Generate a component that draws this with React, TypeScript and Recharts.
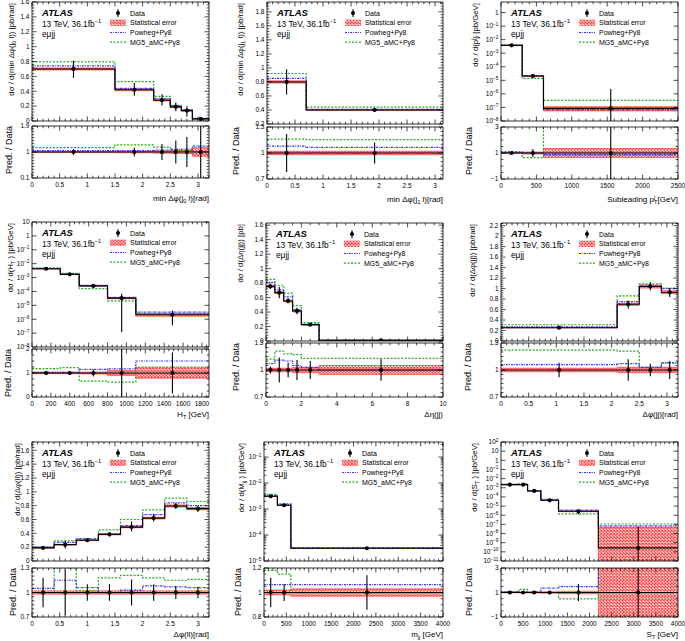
import React from 'react';
import { Area, ComposedChart, ErrorBar, Line, Scatter, XAxis, YAxis } from 'recharts';

const FONT = '"Liberation Sans", Arial, Helvetica, sans-serif';
const BLUE = '#3434ff';
const GREEN = '#25a825';
const RED = '#ff2a2a';

const legendLabels = ['Data', 'Statistical error', 'Powheg+Py8', 'MG5_aMC+Py8'];
const atlasLines = ['13 TeV, 36.1fb^{−1}', 'eμjj'];

// 1: min dphi(j0 l)
const p1Edges = [0, 1.5, 2.2, 2.5, 2.7, 2.9, 3.2];
const p1Data = [0.7, 0.42, 0.28, 0.19, 0.14, 0.028];
const p1Lo = [0.58, 0.34, 0.21, 0.13, 0.06, 0];
const p1Hi = [0.81, 0.51, 0.36, 0.25, 0.2, 0.055];
const p1Stat = [0.02, 0.03, 0.04, 0.05, 0.06, 0.15];
const p1Pow = [0.74, 0.44, 0.3, 0.205, 0.15, 0.034];
const p1Mg = [0.795, 0.53, 0.33, 0.21, 0.15, 0.033];
const p1PowR = [1.05, 1.05, 1.07, 1.09, 1.1, 1.2];
const p1MgR = [1.15, 1.25, 1.17, 1.07, 1.04, 1.0];
const p1ErrR = [0.1, 0.15, 0.28, 0.4, 0.52, 0.9];
const p1XTicks = [0, 0.5, 1, 1.5, 2, 2.5, 3];
const p1YTicks = [0, 0.2, 0.4, 0.6, 0.8, 1, 1.2, 1.4, 1.6];
const p1RTicks = [0.1, 1, 1.9];

// 2: min dphi(j1 l)
const p2Edges = [0, 0.7, 3.1416];
const p2Data = [0.8, 0.4];
const p2Lo = [0.62, 0.37];
const p2Hi = [0.98, 0.43];
const p2Stat = [0.02, 0.02];
const p2Pow = [0.85, 0.41];
const p2Mg = [0.92, 0.44];
const p2PowR = [1.08, 1.065];
const p2MgR = [1.16, 1.155];
const p2ErrR = [0.22, 0.12];
const p2XTicks = [0, 0.5, 1, 1.5, 2, 2.5, 3];
const p2YTicks = [0.2, 0.4, 0.6, 0.8, 1, 1.2, 1.4, 1.6, 1.8];
const p2RTicks = [0.7, 1, 1.3];

// 3: subleading jet pT
const p3Edges = [0, 300, 600, 2500];
const p3Data = [3.8e-3, 2.1e-5, 8.5e-8];
const p3Lo = [3.3e-3, 1.7e-5, 1e-12];
const p3Hi = [4.3e-3, 2.6e-5, 2.3e-6];
const p3Stat = [0.04, 0.08, 0.35];
const p3Pow = [3.8e-3, 2.2e-5, 7e-8];
const p3Mg = [4e-3, 1.4e-5, 3.3e-7];
const p3PowR = [1.05, 1.0, 0.88];
const p3MgR = [1.1, 0.65, 3.8];
const p3ErrR = [0.06, 0.3, 3];
const p3XTicks = [0, 500, 1000, 1500, 2000, 2500];
const p3YTicks = [1e-8, 1e-7, 1e-6, 1e-5, 1e-4, 1e-3, 1e-2, 1e-1, 1];
const p3RTicks = [-1, 1, 3];

// 4: HT
const p4Edges = [0, 300, 500, 800, 1100, 1875];
const p4Data = [4.3e-3, 1.7e-3, 2.5e-4, 3.3e-5, 2.1e-6];
const p4Lo = [3.9e-3, 1.55e-3, 2.1e-4, 1.2e-7, 3.7e-7];
const p4Hi = [4.8e-3, 1.85e-3, 2.9e-4, 6.8e-5, 4e-6];
const p4Stat = [0.03, 0.03, 0.04, 0.1, 0.22];
const p4Pow = [4.4e-3, 1.75e-3, 2.8e-4, 3.8e-5, 3.2e-6];
const p4Mg = [5e-3, 2e-3, 1.6e-4, 2.1e-5, 2.6e-6];
const p4PowR = [1.03, 1.03, 1.15, 1.17, 1.5];
const p4MgR = [1.18, 1.22, 0.66, 0.62, 1.25];
const p4ErrR = [0.06, 0.05, 0.15, 1, 0.85];
const p4XTicks = [0, 200, 400, 600, 800, 1000, 1200, 1400, 1600, 1800];
const p4YTicks = [1e-8, 1e-7, 1e-6, 1e-5, 1e-4, 1e-3, 1e-2, 1e-1, 1, 10];
const p4RTicks = [0, 1, 2];

// 5: deta(jj)
const p5Edges = [0, 0.5, 1, 1.5, 2, 3, 10];
const p5Data = [0.755, 0.668, 0.553, 0.415, 0.226, 0.01];
const p5Lo = [0.72, 0.59, 0.52, 0.37, 0.21, 0.006];
const p5Hi = [0.79, 0.75, 0.59, 0.46, 0.24, 0.014];
const p5Stat = [0.02, 0.02, 0.02, 0.03, 0.03, 0.05];
const p5Pow = [0.81, 0.71, 0.61, 0.43, 0.23, 0.01];
const p5Mg = [0.85, 0.77, 0.66, 0.49, 0.255, 0.011];
const p5PowR = [1.07, 1.11, 1.1, 1.05, 1.03, 1.0];
const p5MgR = [1.12, 1.21, 1.18, 1.17, 1.13, 1.13];
const p5ErrR = [0.04, 0.14, 0.08, 0.11, 0.1, 0.12];
const p5XTicks = [0, 2, 4, 6, 8, 10];
const p5YTicks = [0, 0.2, 0.4, 0.6, 0.8, 1, 1.2, 1.4, 1.6];
const p5RTicks = [0.7, 1, 1.3];

// 6: dphi(jj)
const p6Edges = [0, 2.1, 2.5, 2.9, 3.2];
const p6Data = [0.254, 0.7, 1.04, 0.93];
const p6Lo = [0.235, 0.62, 0.97, 0.84];
const p6Hi = [0.275, 0.77, 1.12, 1.01];
const p6Stat = [0.02, 0.03, 0.03, 0.03];
const p6Pow = [0.27, 0.75, 1.05, 1.0];
const p6Mg = [0.31, 0.86, 1.09, 1.01];
const p6PowR = [1.06, 1.07, 1.03, 1.08];
const p6MgR = [1.22, 1.21, 1.03, 1.08];
const p6ErrR = [0.08, 0.12, 0.07, 0.1];
const p6XTicks = [0, 0.5, 1, 1.5, 2, 2.5, 3];
const p6YTicks = [0, 0.2, 0.4, 0.6, 0.8, 1, 1.2, 1.4, 1.6, 1.8, 2, 2.2];
const p6RTicks = [0.7, 1, 1.3];

// 7: dphi(ll)
const p7Edges = [0, 0.4, 0.8, 1.2, 1.6, 2, 2.4, 2.8, 3.2];
const p7Data = [0.19, 0.236, 0.3, 0.385, 0.49, 0.62, 0.795, 0.757];
const p7Lo = [0.17, 0.18, 0.28, 0.355, 0.43, 0.57, 0.75, 0.71];
const p7Hi = [0.21, 0.29, 0.32, 0.415, 0.57, 0.68, 0.84, 0.8];
const p7Stat = [0.02, 0.02, 0.02, 0.02, 0.02, 0.02, 0.02, 0.02];
const p7Pow = [0.2, 0.27, 0.32, 0.39, 0.51, 0.67, 0.84, 0.8];
const p7Mg = [0.2, 0.29, 0.32, 0.45, 0.6, 0.74, 0.91, 0.86];
const p7PowR = [1.05, 1.15, 1.06, 1.0, 1.03, 1.08, 1.07, 1.06];
const p7MgR = [1.0, 1.3, 1.02, 1.18, 1.21, 1.18, 1.15, 1.16];
const p7ErrR = [0.18, 0.28, 0.1, 0.1, 0.16, 0.1, 0.08, 0.07];
const p7XTicks = [0, 0.5, 1, 1.5, 2, 2.5, 3];
const p7YTicks = [0, 0.2, 0.4, 0.6, 0.8, 1, 1.2, 1.4, 1.6];
const p7RTicks = [0.7, 1, 1.3];

// 8: mjj
const p8Edges = [0, 300, 600, 4000];
const p8Data = [3.1e-3, 1.4e-3, 3.1e-5];
const p8Lo = [2.75e-3, 1.3e-3, 2.7e-5];
const p8Hi = [3.5e-3, 1.5e-3, 3.5e-5];
const p8Stat = [0.02, 0.02, 0.03];
const p8Pow = [3.3e-3, 1.5e-3, 3.3e-5];
const p8Mg = [3.65e-3, 1.6e-3, 3.1e-5];
const p8PowR = [1.065, 1.065, 1.065];
const p8MgR = [1.18, 1.15, 1.0];
const p8ErrR = [0.12, 0.07, 0.14];
const p8XTicks = [0, 500, 1000, 1500, 2000, 2500, 3000, 3500, 4000];
const p8YTicks = [1e-5, 1e-4, 1e-3, 1e-2, 1e-1];
const p8RTicks = [0.8, 1, 1.2];

// 9: ST
const p9Edges = [0, 400, 600, 900, 1300, 2200, 4000];
const p9Data = [2.2e-3, 2.2e-3, 4.5e-4, 4.3e-5, 2.7e-6, 2.7e-10];
const p9Lo = [2e-3, 2e-3, 4e-4, 3.5e-5, 1.3e-6, 1e-14];
const p9Hi = [2.4e-3, 2.4e-3, 5e-4, 5e-5, 4e-6, 6e-8];
const p9Stat = [0.03, 0.03, 0.04, 0.06, 0.1, 185];
const p9Pow = [2.3e-3, 2.3e-3, 4.7e-4, 5.5e-5, 3.6e-6, 7e-8];
const p9Mg = [2.3e-3, 2.6e-3, 4.5e-4, 4.3e-5, 1.4e-6, 1.1e-7];
const p9PowR = [1.05, 1.05, 1.05, 1.35, 1.48, 5];
const p9MgR = [1.05, 1.25, 1.0, 1.0, 0.48, 5];
const p9ErrR = [0.05, 0.05, 0.05, 0.15, 0.7, 5];
const p9XTicks = [0, 500, 1000, 1500, 2000, 2500, 3000, 3500, 4000];
const p9YTicks = [1e-11, 1e-10, 1e-9, 1e-8, 1e-7, 1e-6, 1e-5, 1e-4, 1e-3, 1e-2, 1e-1, 1, 10, 100];
const p9RTicks = [-1, 1, 3];

type Frame = { x: number; y: number; w: number; h: number; ry: number; rh: number; ytx: number; rtx: number; xty: number };

interface Spec {
  f: Frame;
  edges: number[]; data: number[]; lo: number[]; hi: number[]; stat: number[];
  pow: number[]; mg: number[]; powR: number[]; mgR: number[]; errR: number[];
  x: [number, number]; xt: number[]; xm: number;
  y: [number, number]; yt: number[]; ym: number; log?: boolean; logMinor?: boolean;
  r: [number, number]; rt: number[]; rm: number;
  yTitle: string; xTitle: string;
}

const specs: Spec[] = [
  {
    f: { x: 32, y: 2, w: 177, h: 119, ry: 126, rh: 52, ytx: 14, rtx: 11.5, xty: 23 },
    edges: p1Edges, data: p1Data, lo: p1Lo, hi: p1Hi, stat: p1Stat, pow: p1Pow, mg: p1Mg, powR: p1PowR, mgR: p1MgR, errR: p1ErrR,
    x: [0, 3.2], xt: p1XTicks, xm: 0.1, y: [0, 1.6], yt: p1YTicks, ym: 0.04, r: [0.1, 1.9], rt: p1RTicks, rm: 0.1,
    yTitle: 'dσ / d(min Δφ(j_{0} l)) [pb/rad]', xTitle: 'min Δφ(j_{0} l)[rad]',
  },
  {
    f: { x: 267, y: 2, w: 176, h: 122, ry: 127, rh: 52, ytx: 242.5, rtx: 238.5, xty: 23 },
    edges: p2Edges, data: p2Data, lo: p2Lo, hi: p2Hi, stat: p2Stat, pow: p2Pow, mg: p2Mg, powR: p2PowR, mgR: p2MgR, errR: p2ErrR,
    x: [0, 3.1416], xt: p2XTicks, xm: 0.1, y: [0.2, 1.94], yt: p2YTicks, ym: 0.04, r: [0.7, 1.3], rt: p2RTicks, rm: 0.05,
    yTitle: 'dσ / d(min Δφ(j_{1} l)) [pb/rad]', xTitle: 'min Δφ(j_{1} l)[rad]',
  },
  {
    f: { x: 501, y: 2, w: 177, h: 119, ry: 127, rh: 52, ytx: 478, rtx: 472, xty: 23 },
    edges: p3Edges, data: p3Data, lo: p3Lo, hi: p3Hi, stat: p3Stat, pow: p3Pow, mg: p3Mg, powR: p3PowR, mgR: p3MgR, errR: p3ErrR,
    x: [0, 2500], xt: p3XTicks, xm: 100, y: [1e-8, 6], yt: p3YTicks, ym: 0, log: true, r: [-1, 3], rt: p3RTicks, rm: 0.5,
    yTitle: 'dσ / d(p_{T}^{j}) [pb/GeV]', xTitle: 'Subleading p_{T}^{j} [GeV]',
  },
  {
    f: { x: 32, y: 222, w: 177, h: 125, ry: 349, rh: 48, ytx: 13, rtx: 10.5, xty: 20 },
    edges: p4Edges, data: p4Data, lo: p4Lo, hi: p4Hi, stat: p4Stat, pow: p4Pow, mg: p4Mg, powR: p4PowR, mgR: p4MgR, errR: p4ErrR,
    x: [0, 1875], xt: p4XTicks, xm: 50, y: [1e-8, 10], yt: p4YTicks, ym: 0, log: true, r: [0, 2], rt: p4RTicks, rm: 0.25,
    yTitle: 'dσ / d(H_{T} ) [pb/GeV]', xTitle: 'H_{T} [GeV]',
  },
  {
    f: { x: 266, y: 223, w: 177, h: 118, ry: 343, rh: 54, ytx: 242.5, rtx: 238.5, xty: 20 },
    edges: p5Edges, data: p5Data, lo: p5Lo, hi: p5Hi, stat: p5Stat, pow: p5Pow, mg: p5Mg, powR: p5PowR, mgR: p5MgR, errR: p5ErrR,
    x: [0, 10], xt: p5XTicks, xm: 0.5, y: [0, 1.63], yt: p5YTicks, ym: 0.04, r: [0.7, 1.3], rt: p5RTicks, rm: 0.05,
    yTitle: 'dσ / d(Δη(jj)) [pb]', xTitle: 'Δη(jj)',
  },
  {
    f: { x: 501, y: 223, w: 177, h: 118, ry: 343, rh: 54, ytx: 474.5, rtx: 470.5, xty: 20 },
    edges: p6Edges, data: p6Data, lo: p6Lo, hi: p6Hi, stat: p6Stat, pow: p6Pow, mg: p6Mg, powR: p6PowR, mgR: p6MgR, errR: p6ErrR,
    x: [0, 3.2], xt: p6XTicks, xm: 0.1, y: [0, 2.25], yt: p6YTicks, ym: 0.04, r: [0.7, 1.3], rt: p6RTicks, rm: 0.05,
    yTitle: 'dσ / d(Δφ(jj)) [pb/rad]', xTitle: 'Δφ(jj)[rad]',
  },
  {
    f: { x: 32, y: 442, w: 177, h: 119, ry: 568, rh: 49, ytx: 20, rtx: 16, xty: 20 },
    edges: p7Edges, data: p7Data, lo: p7Lo, hi: p7Hi, stat: p7Stat, pow: p7Pow, mg: p7Mg, powR: p7PowR, mgR: p7MgR, errR: p7ErrR,
    x: [0, 3.2], xt: p7XTicks, xm: 0.1, y: [0, 1.72], yt: p7YTicks, ym: 0.04, r: [0.7, 1.3], rt: p7RTicks, rm: 0.05,
    yTitle: 'dσ / d(Δφ(ll)) [pb/rad]', xTitle: 'Δφ(ll)[rad]',
  },
  {
    f: { x: 264, y: 442, w: 179, h: 119, ry: 568, rh: 49, ytx: 244, rtx: 241, xty: 20 },
    edges: p8Edges, data: p8Data, lo: p8Lo, hi: p8Hi, stat: p8Stat, pow: p8Pow, mg: p8Mg, powR: p8PowR, mgR: p8MgR, errR: p8ErrR,
    x: [0, 4000], xt: p8XTicks, xm: 100, y: [1e-5, 0.38], yt: p8YTicks, ym: 0, log: true, logMinor: true, r: [0.8, 1.2], rt: p8RTicks, rm: 0.05,
    yTitle: 'dσ / d(M_{jj} ) [pb/GeV]', xTitle: 'm_{jj} [GeV]',
  },
  {
    f: { x: 501, y: 442, w: 177, h: 119, ry: 568, rh: 49, ytx: 477, rtx: 472, xty: 20 },
    edges: p9Edges, data: p9Data, lo: p9Lo, hi: p9Hi, stat: p9Stat, pow: p9Pow, mg: p9Mg, powR: p9PowR, mgR: p9MgR, errR: p9ErrR,
    x: [0, 4000], xt: p9XTicks, xm: 100, y: [1e-11, 100], yt: p9YTicks, ym: 0, log: true, r: [-1, 3], rt: p9RTicks, rm: 0.5,
    yTitle: 'dσ / d(S_{T} ) [pb/GeV]', xTitle: 'S_{T} [GeV]',
  },
];

function linTicks(d: [number, number], step: number): number[] {
  if (!step) return [];
  const out: number[] = [];
  const n0 = Math.ceil(d[0] / step - 1e-6);
  const n1 = Math.floor(d[1] / step + 1e-6);
  for (let n = n0; n <= n1; n++) out.push(+(n * step).toFixed(6));
  return out;
}

function logMinorTicks(d: [number, number]): number[] {
  const out: number[] = [];
  for (let e = Math.floor(Math.log10(d[0])); e <= Math.ceil(Math.log10(d[1])); e++) {
    for (let k = 2; k <= 9; k++) {
      const v = k * Math.pow(10, e);
      if (v >= d[0] && v <= d[1]) out.push(v);
    }
  }
  return out;
}

const merge = (a: number[], b: number[]) => Array.from(new Set([...a, ...b])).sort((p, q) => p - q);

const isMajor = (v: number, majors: number[], log?: boolean) =>
  majors.some((m) => (log ? Math.abs(m - v) <= 1e-6 * Math.abs(m) : Math.abs(m - v) < 1e-9));

const linLabel = (v: number) => String(+v.toFixed(4)).replace('-', '−');

const clamp = (v: number, d: [number, number]) => Math.min(Math.max(v, d[0]), d[1]);

function logLabel(v: number) {
  const e = Math.round(Math.log10(v));
  if (e === 0) return '1';
  if (e === 1) return '10';
  return (
    <>
      10<tspan dy={-2.8} fontSize={4.8}>{String(e).replace('-', '−')}</tspan>
    </>
  );
}

function Rich({ s, fs }: { s: string; fs: number }) {
  const parts = s.split(/(_\{[^}]*\}|\^\{[^}]*\})/).filter(Boolean);
  let shift = 0;
  let subW = 0;
  return (
    <>
      {parts.map((p, i) => {
        if (p.startsWith('_{')) {
          const t = p.slice(2, -1);
          const dy = fs * 0.3 - shift;
          shift = fs * 0.3;
          subW = t.length * fs * 0.42;
          return <tspan key={i} dy={dy} fontSize={fs * 0.7}>{t}</tspan>;
        }
        if (p.startsWith('^{')) {
          const t = p.slice(2, -1);
          const dy = -fs * 0.4 - shift;
          shift = -fs * 0.4;
          const dx = subW ? -subW : 0;
          subW = 0;
          return <tspan key={i} dx={dx} dy={dy} fontSize={fs * 0.7}>{t}</tspan>;
        }
        const dy = -shift;
        shift = 0;
        subW = 0;
        return <tspan key={i} dy={dy}>{p}</tspan>;
      })}
    </>
  );
}

const makeXTick = (side: 'b' | 't', fy: number, majors: number[], labels: boolean) => (p: any) => {
  const v = p.payload.value;
  const maj = isMajor(v, majors);
  const len = maj ? 4.5 : 2.3;
  const dir = side === 'b' ? -1 : 1;
  return (
    <g>
      <line x1={p.x} x2={p.x} y1={fy} y2={fy + dir * len} stroke="#000" strokeWidth={0.7} />
      {labels && maj && (
        <text x={p.x} y={fy + 8.8} textAnchor="middle" fontSize={6.5} fontFamily={FONT} fill="#000">
          {linLabel(v)}
        </text>
      )}
    </g>
  );
};

const makeYTick = (side: 'l' | 'r', fx: number, majors: number[], log: boolean | undefined, labels: boolean) => (p: any) => {
  const v = p.payload.value;
  const maj = isMajor(v, majors, log);
  const len = maj ? 4.5 : 2.3;
  const dir = side === 'l' ? 1 : -1;
  return (
    <g>
      <line x1={fx} x2={fx + dir * len} y1={p.y} y2={p.y} stroke="#000" strokeWidth={0.7} />
      {labels && maj && (
        <text x={fx - 2.5} y={p.y + 2.3} textAnchor="end" fontSize={6.5} fontFamily={FONT} fill="#000">
          {log ? logLabel(v) : linLabel(v)}
        </text>
      )}
    </g>
  );
};

const dotShape = (p: any) => <circle cx={p.cx} cy={p.cy} r={2.1} fill="#000" />;

interface HistProps {
  left: number; top: number; w: number; h: number; mb: number;
  rows: any[]; pts: any[];
  xd: [number, number]; xt: number[]; xm: number;
  yd: [number, number]; yt: number[]; ym: number; log?: boolean; logMinor?: boolean;
  xLabels: boolean;
}

function Hist({ left, top, w, h, mb, rows, pts, xd, xt, xm, yd, yt, ym, log, logMinor, xLabels }: HistProps) {
  const ML = 34;
  const MR = 12;
  const MT = 4;
  const xAll = merge(xt, linTicks(xd, xm));
  const yAll = log ? merge(yt, logMinor ? logMinorTicks(yd) : []) : merge(yt, linTicks(yd, ym));
  const axisLine = { stroke: '#000', strokeWidth: 0.8 };
  const ids = { xAxisId: 'b', yAxisId: 'l' };
  return (
    <div style={{ position: 'absolute', left: left - ML, top: top - MT }}>
      <ComposedChart width={w + ML + MR} height={h + MT + mb} data={rows} margin={{ top: 0, right: 0, bottom: 0, left: 0 }}>
        <XAxis xAxisId="b" dataKey="x" type="number" domain={xd} allowDataOverflow ticks={xAll} interval={0}
          height={mb} tickLine={false} axisLine={axisLine} tick={makeXTick('b', MT + h, xt, xLabels)} />
        <XAxis xAxisId="t" dataKey="x" orientation="top" type="number" domain={xd} allowDataOverflow ticks={xAll} interval={0}
          height={MT} tickLine={false} axisLine={axisLine} tick={makeXTick('t', MT, xt, false)} />
        <YAxis yAxisId="l" type="number" scale={log ? 'log' : 'linear'} domain={yd} allowDataOverflow ticks={yAll} interval={0}
          width={ML} tickLine={false} axisLine={axisLine} tick={makeYTick('l', ML, yt, log, true)} />
        <YAxis yAxisId="r" orientation="right" type="number" scale={log ? 'log' : 'linear'} domain={yd} allowDataOverflow ticks={yAll} interval={0}
          width={MR} tickLine={false} axisLine={axisLine} tick={makeYTick('r', ML + w, yt, log, false)} />
        <Area {...ids} type="stepAfter" dataKey="band" stroke={RED} strokeWidth={0.6} fill="url(#hatch)" fillOpacity={1}
          dot={false} activeDot={false} isAnimationActive={false} />
        <Line {...ids} type="stepAfter" dataKey="mg" stroke={GREEN} strokeWidth={1.2} strokeDasharray="2 1.5"
          dot={false} activeDot={false} isAnimationActive={false} />
        <Line {...ids} type="stepAfter" dataKey="pow" stroke={BLUE} strokeWidth={1.2} strokeDasharray="2.2 1 0.8 1"
          dot={false} activeDot={false} isAnimationActive={false} />
        <Line {...ids} type="stepAfter" dataKey="d" stroke="#000" strokeWidth={1.1}
          dot={false} activeDot={false} isAnimationActive={false} />
        <Scatter {...ids} data={pts} dataKey="y" shape={dotShape} isAnimationActive={false}>
          <ErrorBar dataKey="err" direction="y" width={0} stroke="#000" strokeWidth={1.1} />
        </Scatter>
      </ComposedChart>
    </div>
  );
}

function Panel({ s }: { s: Spec }) {
  const { f } = s;
  const floor = s.log ? s.y[0] * 1e-3 : -1e9;
  const last = s.data.length - 1;
  const centers = s.data.map((_, i) => (s.edges[i] + s.edges[i + 1]) / 2);
  const mainRows = s.edges.map((x, i) => {
    const k = Math.min(i, last);
    const v = s.data[k];
    return { x, d: v, pow: s.pow[k], mg: s.mg[k], band: [Math.max(v * (1 - s.stat[k]), floor), v * (1 + s.stat[k])] };
  });
  // error bars are cut at the frame edges
  const mainPts = s.data.map((v, i) => ({
    x: centers[i], y: v, err: [v - clamp(s.lo[i], s.y), clamp(s.hi[i], s.y) - v],
  }));
  const ratioRows = s.edges.map((x, i) => {
    const k = Math.min(i, last);
    return { x, d: 1, pow: s.powR[k], mg: s.mgR[k], band: [1 - s.stat[k], 1 + s.stat[k]] };
  });
  const ratioPts = s.data.map((_, i) => ({
    x: centers[i], y: 1, err: [1 - clamp(1 - s.errR[i], s.r), clamp(1 + s.errR[i], s.r) - 1],
  }));
  return (
    <>
      <Hist left={f.x} top={f.y} w={f.w} h={f.h} mb={4} rows={mainRows} pts={mainPts}
        xd={s.x} xt={s.xt} xm={s.xm} yd={s.y} yt={s.yt} ym={s.ym} log={s.log} logMinor={s.logMinor} xLabels={false} />
      <Hist left={f.x} top={f.ry} w={f.w} h={f.rh} mb={12} rows={ratioRows} pts={ratioPts}
        xd={s.x} xt={s.xt} xm={s.xm} yd={s.r} yt={s.rt} ym={s.rm} xLabels />
    </>
  );
}

function LegendMark({ i, x, y }: { i: number; x: number; y: number }) {
  if (i === 0)
    return (
      <g>
        <line x1={x} x2={x} y1={y - 3.8} y2={y + 3.8} stroke="#000" strokeWidth={1.1} />
        <circle cx={x} cy={y} r={2} fill="#000" />
      </g>
    );
  if (i === 1) return <rect x={x - 8} y={y - 3.2} width={16} height={6.4} fill="url(#hatch)" />;
  return (
    <line x1={x - 8} x2={x + 8} y1={y} y2={y} stroke={i === 2 ? BLUE : GREEN} strokeWidth={1.2}
      strokeDasharray={i === 2 ? '2.2 1 0.8 1' : '2 1.5'} />
  );
}

function Notes({ s }: { s: Spec }) {
  const { f } = s;
  const lx = f.x + 10;
  return (
    <g fontFamily={FONT} fill="#000">
      <text x={lx} y={f.y + 14} fontSize={9.5} fontWeight="bold" fontStyle="italic">ATLAS</text>
      <text x={lx} y={f.y + 24.5} fontSize={8.3}><Rich s={atlasLines[0]} fs={8.3} /></text>
      <text x={lx} y={f.y + 35} fontSize={8.3}>{atlasLines[1]}</text>
      {legendLabels.map((lab, i) => {
        const by = f.y + 13.5 + i * 9.7;
        return (
          <g key={lab}>
            <LegendMark i={i} x={f.x + 86} y={by - 2.4} />
            <text x={f.x + 98} y={by} fontSize={7}>{lab}</text>
          </g>
        );
      })}
      <text transform={`rotate(-90 ${f.ytx} ${f.y + 1})`} x={f.ytx} y={f.y + 1} textAnchor="end" fontSize={7.8}>
        <Rich s={s.yTitle} fs={7.8} />
      </text>
      <text transform={`rotate(-90 ${f.rtx} ${f.ry})`} x={f.rtx} y={f.ry} textAnchor="end" fontSize={9}>
        Pred. / Data
      </text>
      <text x={f.x + f.w} y={f.ry + f.rh + f.xty} textAnchor="end" fontSize={8}>
        <Rich s={s.xTitle} fs={8} />
      </text>
    </g>
  );
}

export default function App() {
  return (
    <div style={{ position: 'absolute', left: 0, top: 0, width: 685, height: 641, background: '#fff', overflow: 'hidden' }}>
      {specs.map((s, i) => (
        <Panel key={i} s={s} />
      ))}
      <svg width={685} height={641} style={{ position: 'absolute', left: 0, top: 0, pointerEvents: 'none' }}>
        <defs>
          <pattern id="hatch" width={3.2} height={3.2} patternUnits="userSpaceOnUse">
            <rect width={3.2} height={3.2} fill="#fff" />
            <path d="M0,0 L3.2,3.2 M3.2,0 L0,3.2" stroke={RED} strokeWidth={0.9} />
          </pattern>
        </defs>
        {specs.map((s, i) => (
          <Notes key={i} s={s} />
        ))}
      </svg>
    </div>
  );
}
